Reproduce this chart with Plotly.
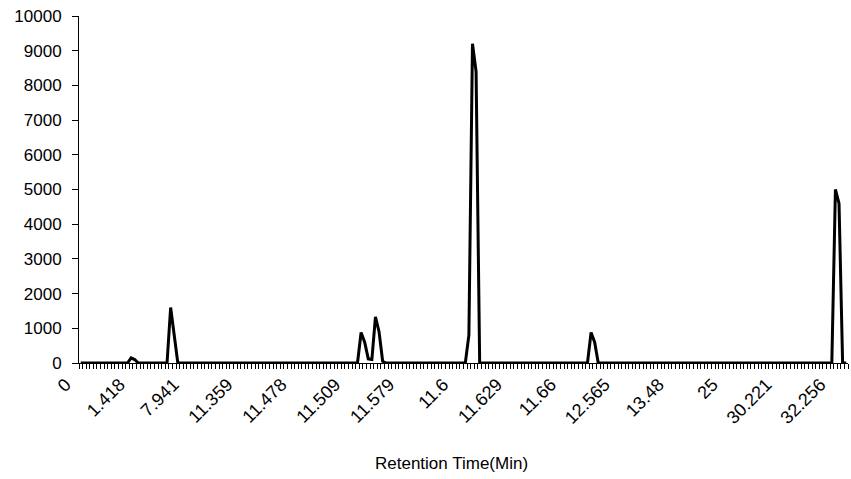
import plotly.graph_objects as go

# Retention-time category labels shown on the axis (every 15th category)
label_positions = [0, 15, 30, 45, 60, 75, 90, 105, 120, 135, 150, 165, 180, 195, 210]
label_texts = ["0", "1.418", "7.941", "11.359", "11.478", "11.509", "11.579", "11.6",
               "11.629", "11.66", "12.565", "13.48", "25", "30.221", "32.256"]

# Detector response for each of the 214 categories
intensity = [
    0, 0, 0, 0, 0, 0, 0, 0, 0, 0,
    0, 0, 0, 0, 150, 100, 0, 0, 0, 0,
    0, 0, 0, 0, 0, 1600, 800, 0, 0, 0,
    0, 0, 0, 0, 0, 0, 0, 0, 0, 0,
    0, 0, 0, 0, 0, 0, 0, 0, 0, 0,
    0, 0, 0, 0, 0, 0, 0, 0, 0, 0,
    0, 0, 0, 0, 0, 0, 0, 0, 0, 0,
    0, 0, 0, 0, 0, 0, 0, 0, 880, 600,
    120, 100, 1330, 900, 50, 0, 0, 0, 0, 0,
    0, 0, 0, 0, 0, 0, 0, 0, 0, 0,
    0, 0, 0, 0, 0, 0, 0, 0, 800, 9200,
    8400, 0, 0, 0, 0, 0, 0, 0, 0, 0,
    0, 0, 0, 0, 0, 0, 0, 0, 0, 0,
    0, 0, 0, 0, 0, 0, 0, 0, 0, 0,
    0, 0, 880, 600, 0, 0, 0, 0, 0, 0,
    0, 0, 0, 0, 0, 0, 0, 0, 0, 0,
    0, 0, 0, 0, 0, 0, 0, 0, 0, 0,
    0, 0, 0, 0, 0, 0, 0, 0, 0, 0,
    0, 0, 0, 0, 0, 0, 0, 0, 0, 0,
    0, 0, 0, 0, 0, 0, 0, 0, 0, 0,
    0, 0, 0, 0, 0, 0, 0, 0, 0, 0,
    5000, 4600, 0, 0,
]
category_index = list(range(len(intensity)))

y_ticks = [0, 1000, 2000, 3000, 4000, 5000, 6000, 7000, 8000, 9000, 10000]
x_title = "Retention Time(Min)"

FONT = "Liberation Sans, Arial, sans-serif"

fig = go.Figure(
    go.Scatter(
        x=category_index,
        y=intensity,
        mode="lines",
        line=dict(color="black", width=3),
        cliponaxis=False,
        showlegend=False,
        hoverinfo="skip",
    )
)

fig.update_layout(
    width=851,
    height=479,
    margin=dict(l=79, r=3, t=16, b=116),
    paper_bgcolor="white",
    plot_bgcolor="white",
    font=dict(family=FONT, size=17, color="black"),
    annotations=[
        dict(
            text=x_title,
            xref="paper", yref="paper",
            x=0.485, y=-0.291,
            xanchor="center", yanchor="middle",
            showarrow=False,
            font=dict(family=FONT, size=17, color="black"),
        )
    ],
)

fig.update_xaxes(
    range=[-0.5, len(intensity) - 0.5],
    tickmode="array",
    tickvals=label_positions,
    ticktext=label_texts,
    tickangle=-45,
    ticks="",
    ticklabelshift=-15,
    ticklabelstandoff=3,
    showline=True,
    linecolor="black",
    linewidth=1,
    showgrid=False,
    zeroline=False,
    automargin=False,
    tickfont=dict(family=FONT, size=18, color="black"),
    minor=dict(tickmode="linear", tick0=-0.5, dtick=1, ticks="outside",
               ticklen=5, tickwidth=1, tickcolor="black", showgrid=False),
)

fig.update_yaxes(
    range=[0, 10000],
    tickmode="array",
    tickvals=y_ticks,
    ticktext=[str(v) for v in y_ticks],
    ticks="outside",
    ticklen=6,
    tickwidth=1,
    tickcolor="black",
    showline=True,
    linecolor="black",
    linewidth=1,
    showgrid=False,
    zeroline=False,
    automargin=False,
    tickfont=dict(family=FONT, size=17, color="black"),
    ticklabelstandoff=7,
)

fig.write_html("out.html", config={"displayModeBar": False, "staticPlot": True},
               post_script="document.body.style.margin='0';")
